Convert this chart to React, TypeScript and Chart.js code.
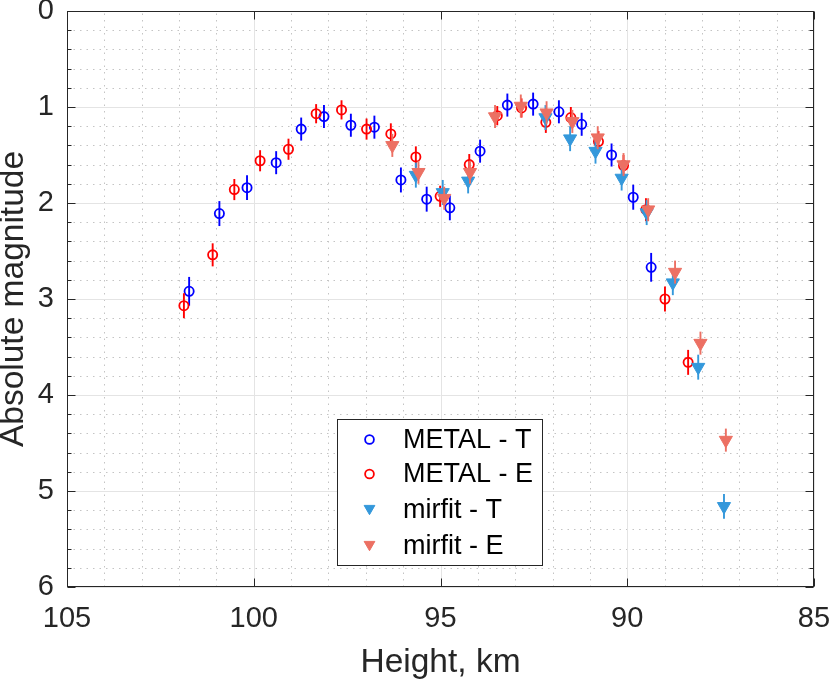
import React, { useEffect, useRef } from 'react';
import { Chart, registerables } from 'chart.js';

Chart.register(...registerables);

const FONT = '"Liberation Sans", Arial, Helvetica, sans-serif';

// ---------------- data ----------------
const metalTHeight = [101.73, 100.92, 100.18, 99.40, 98.73, 98.12, 97.40, 96.77, 96.06, 95.37, 94.75, 93.94, 93.21, 92.52, 91.83, 91.22, 90.42, 89.84, 89.36];
const metalTMag = [2.92, 2.11, 1.84, 1.58, 1.23, 1.10, 1.19, 1.21, 1.76, 1.96, 2.05, 1.46, 0.98, 0.97, 1.05, 1.18, 1.50, 1.94, 2.67];
const metalTErr = [0.15, 0.13, 0.13, 0.12, 0.12, 0.12, 0.12, 0.12, 0.13, 0.13, 0.13, 0.12, 0.12, 0.12, 0.12, 0.12, 0.12, 0.13, 0.15];

const metalEHeight = [101.87, 101.10, 100.52, 99.83, 99.07, 98.33, 97.65, 96.98, 96.33, 95.66, 95.01, 94.23, 93.48, 92.83, 92.18, 91.51, 90.77, 90.10, 89.50, 88.99, 88.37];
const metalEMag = [3.07, 2.54, 1.86, 1.56, 1.44, 1.07, 1.03, 1.23, 1.28, 1.52, 1.93, 1.60, 1.09, 1.01, 1.16, 1.11, 1.36, 1.61, 2.07, 3.00, 3.66];
const metalEErr = [0.13, 0.12, 0.11, 0.11, 0.11, 0.10, 0.10, 0.11, 0.11, 0.11, 0.11, 0.11, 0.10, 0.10, 0.11, 0.11, 0.11, 0.11, 0.12, 0.13, 0.13];

const mirfitTHeight = [95.66, 94.94, 94.26, 92.19, 91.53, 90.85, 90.15, 89.48, 88.78, 88.10, 87.41];
const mirfitTMag = [1.71, 1.89, 1.77, 1.11, 1.33, 1.46, 1.74, 2.10, 2.83, 3.71, 5.16];
const mirfitTErr = [0.13, 0.13, 0.13, 0.13, 0.13, 0.13, 0.13, 0.13, 0.13, 0.13, 0.13];

const mirfitEHeight = [96.29, 95.59, 94.90, 94.21, 93.54, 92.85, 92.16, 91.47, 90.79, 90.10, 89.44, 88.72, 88.04, 87.36];
const mirfitEMag = [1.40, 1.68, 1.95, 1.68, 1.10, 0.99, 1.06, 1.15, 1.32, 1.60, 2.07, 2.72, 3.46, 4.47];
const mirfitEErr = [0.12, 0.12, 0.12, 0.12, 0.12, 0.12, 0.12, 0.12, 0.12, 0.12, 0.12, 0.12, 0.12, 0.12];

const xTickValues = [105, 100, 95, 90, 85];
const yTickValues = [0, 1, 2, 3, 4, 5, 6];

const seriesNames = ['METAL - T', 'METAL - E', 'mirfit - T', 'mirfit - E'];
const seriesColors = ['#0000ff', '#ff0000', '#3498db', '#ec7063'];
const seriesStyles = ['circle', 'circle', 'triangle', 'triangle'];

const xTitle = 'Height, km';
const yTitle = 'Absolute magnitude';

const heights = [metalTHeight, metalEHeight, mirfitTHeight, mirfitEHeight];
const mags = [metalTMag, metalEMag, mirfitTMag, mirfitEMag];
const errs = [metalTErr, metalEErr, mirfitTErr, mirfitEErr];

const AXIS_COLOR = '#262626';

function drawMarker(ctx: CanvasRenderingContext2D, style: string, color: string, x: number, y: number, r: number) {
  ctx.save();
  ctx.setLineDash([]);
  if (style === 'circle') {
    ctx.strokeStyle = color;
    ctx.lineWidth = 1.8;
    ctx.beginPath();
    ctx.arc(x, y, r, 0, Math.PI * 2);
    ctx.stroke();
  } else {
    ctx.fillStyle = color;
    ctx.strokeStyle = color;
    ctx.lineWidth = 1;
    ctx.beginPath();
    const h = Math.sqrt(3) / 2 * r;
    ctx.moveTo(x - h, y - r / 2);
    ctx.lineTo(x + h, y - r / 2);
    ctx.lineTo(x, y + r);
    ctx.closePath();
    ctx.fill();
    ctx.stroke();
  }
  ctx.restore();
}

const framePlugin = {
  id: 'matlabFrame',
  beforeDatasetsDraw(chart: any) {
    const { ctx, chartArea } = chart;
    const { left, right, top, bottom } = chartArea;
    const xs = chart.scales.x;
    const ys = chart.scales.y;
    ctx.save();
    // minor dotted grid
    ctx.strokeStyle = '#c4c4c4';
    ctx.lineWidth = 1;
    ctx.setLineDash([1.5, 5]);
    for (let v = 86; v < 105; v += 1) {
      if (v % 5 === 0) continue;
      const px = Math.round(xs.getPixelForValue(v)) + 0.5;
      ctx.beginPath();
      ctx.moveTo(px, bottom);
      ctx.lineTo(px, top);
      ctx.stroke();
    }
    for (let k = 1; k < 30; k += 1) {
      if (k % 5 === 0) continue;
      const py = Math.round(ys.getPixelForValue(k / 5)) + 0.5;
      ctx.beginPath();
      ctx.moveTo(left, py);
      ctx.lineTo(right, py);
      ctx.stroke();
    }
    // major grid
    ctx.setLineDash([]);
    ctx.strokeStyle = '#e4e4e4';
    for (const v of xTickValues) {
      const px = Math.round(xs.getPixelForValue(v)) + 0.5;
      ctx.beginPath();
      ctx.moveTo(px, bottom);
      ctx.lineTo(px, top);
      ctx.stroke();
    }
    for (const v of yTickValues) {
      const py = Math.round(ys.getPixelForValue(v)) + 0.5;
      ctx.beginPath();
      ctx.moveTo(left, py);
      ctx.lineTo(right, py);
      ctx.stroke();
    }
    ctx.restore();
  },
  beforeDatasetDraw(chart: any, args: any) {
    const i = args.index;
    const { ctx } = chart;
    const xs = chart.scales.x;
    const ys = chart.scales.y;
    ctx.save();
    ctx.strokeStyle = seriesColors[i];
    ctx.lineWidth = 1.9;
    ctx.setLineDash([]);
    heights[i].forEach((h, j) => {
      const px = xs.getPixelForValue(h);
      const y1 = ys.getPixelForValue(mags[i][j] - errs[i][j]);
      const y2 = ys.getPixelForValue(mags[i][j] + errs[i][j]);
      ctx.beginPath();
      ctx.moveTo(px, y1);
      ctx.lineTo(px, y2);
      ctx.stroke();
    });
    ctx.restore();
  },
  afterDatasetsDraw(chart: any) {
    const { ctx, chartArea } = chart;
    const { left, right, top, bottom } = chartArea;
    const xs = chart.scales.x;
    const ys = chart.scales.y;
    ctx.save();
    ctx.setLineDash([]);
    ctx.strokeStyle = AXIS_COLOR;
    ctx.lineWidth = 1;
    const L = Math.round(left) + 0.5, R = Math.round(right) - 0.5, T = Math.round(top) + 0.5, B = Math.round(bottom) - 0.5;
    for (const v of xTickValues) {
      const px = Math.round(xs.getPixelForValue(v)) + 0.5;
      ctx.beginPath();
      ctx.moveTo(px, B); ctx.lineTo(px, B - 8);
      ctx.moveTo(px, T); ctx.lineTo(px, T + 8);
      ctx.stroke();
    }
    for (let k = 0; k <= 30; k += 1) {
      const py = Math.round(ys.getPixelForValue(k / 5)) + 0.5;
      const len = k % 5 === 0 ? 8 : 4;
      ctx.beginPath();
      ctx.moveTo(L, py); ctx.lineTo(L + len, py);
      ctx.moveTo(R, py); ctx.lineTo(R - len, py);
      ctx.stroke();
    }
    ctx.strokeRect(L, T, R - L, B - T);
    ctx.restore();
  },
  afterDraw(chart: any) {
    const { ctx } = chart;
    ctx.save();
    const bx = 337.5, by = 419.5, bw = 205, bh = 146;
    ctx.fillStyle = '#ffffff';
    ctx.fillRect(bx, by, bw, bh);
    ctx.strokeStyle = AXIS_COLOR;
    ctx.lineWidth = 1;
    ctx.setLineDash([]);
    ctx.strokeRect(bx, by, bw, bh);
    const rowY = [439.5, 474, 510, 546];
    ctx.font = `27px ${FONT}`;
    ctx.textBaseline = 'middle';
    ctx.textAlign = 'left';
    seriesNames.forEach((name, i) => {
      const r = seriesStyles[i] === 'circle' ? 4.4 : 6.2;
      drawMarker(ctx, seriesStyles[i], seriesColors[i], 369.5, rowY[i] - (seriesStyles[i] === 'circle' ? 0 : 1.5), r);
      ctx.fillStyle = '#000000';
      ctx.fillText(name, 403, rowY[i] + 1);
    });
    ctx.restore();
  },
};

export default function App() {
  const canvasRef = useRef<HTMLCanvasElement | null>(null);

  useEffect(() => {
    if (!canvasRef.current) return;
    const orders = [4, 3, 2, 1];
    const datasets = seriesNames.map((name, i) => {
      const isCircle = seriesStyles[i] === 'circle';
      return {
        label: name,
        data: heights[i].map((h, j) => ({ x: h, y: mags[i][j] })),
        showLine: false,
        order: orders[i],
        pointStyle: seriesStyles[i],
        pointRadius: isCircle ? 4.6 : 7.6,
        pointRotation: isCircle ? 0 : 180,
        pointBorderWidth: isCircle ? 1.8 : 1,
        pointBorderColor: seriesColors[i],
        pointBackgroundColor: isCircle ? 'rgba(0,0,0,0)' : seriesColors[i],
        pointHoverRadius: isCircle ? 4.6 : 7.6,
      };
    });

    const chart = new Chart(canvasRef.current, {
      type: 'scatter',
      data: { datasets: datasets as any },
      options: {
        animation: false,
        responsive: false,
        events: [],
        layout: { padding: { top: 11, right: 16, left: 0, bottom: 0 } },
        plugins: {
          legend: { display: false },
          tooltip: { enabled: false },
        },
        scales: {
          x: {
            type: 'linear',
            min: 85,
            max: 105,
            reverse: true,
            grid: { display: false, drawTicks: false },
            border: { display: false },
            afterBuildTicks: (scale: any) => {
              scale.ticks = xTickValues.map((v) => ({ value: v }));
            },
            afterFit: (scale: any) => {
              scale.height = 94;
              scale.paddingLeft = 0;
              scale.paddingRight = 0;
            },
            ticks: {
              autoSkip: false,
              maxRotation: 0,
              minRotation: 0,
              padding: 15,
              color: AXIS_COLOR,
              font: { family: FONT, size: 29, lineHeight: 1.2 },
              callback: (v: any) => String(v),
            },
            title: {
              display: true,
              text: xTitle,
              color: AXIS_COLOR,
              font: { family: FONT, size: 33.5, lineHeight: 1 },
              padding: { top: 0, bottom: 1.5 },
            },
          },
          y: {
            type: 'linear',
            min: 0,
            max: 6,
            reverse: true,
            grid: { display: false, drawTicks: false },
            border: { display: false },
            afterBuildTicks: (scale: any) => {
              scale.ticks = yTickValues.map((v) => ({ value: v }));
            },
            afterFit: (scale: any) => {
              scale.width = 67;
              scale.paddingTop = 0;
              scale.paddingBottom = 0;
            },
            ticks: {
              padding: 13,
              color: AXIS_COLOR,
              font: { family: FONT, size: 29, lineHeight: 1.2 },
              callback: (v: any) => String(v),
            },
            title: {
              display: true,
              text: yTitle,
              color: AXIS_COLOR,
              font: { family: FONT, size: 33.5, lineHeight: 0.836 },
              padding: { top: 0, bottom: 0 },
            },
          },
        },
      },
      plugins: [framePlugin as any],
    });
    return () => chart.destroy();
  }, []);

  return (
    <div style={{ position: 'absolute', left: 0, top: 0, width: 830, height: 681, background: '#ffffff' }}>
      <canvas ref={canvasRef} width={830} height={681} style={{ width: 830, height: 681, display: 'block' }} />
    </div>
  );
}
